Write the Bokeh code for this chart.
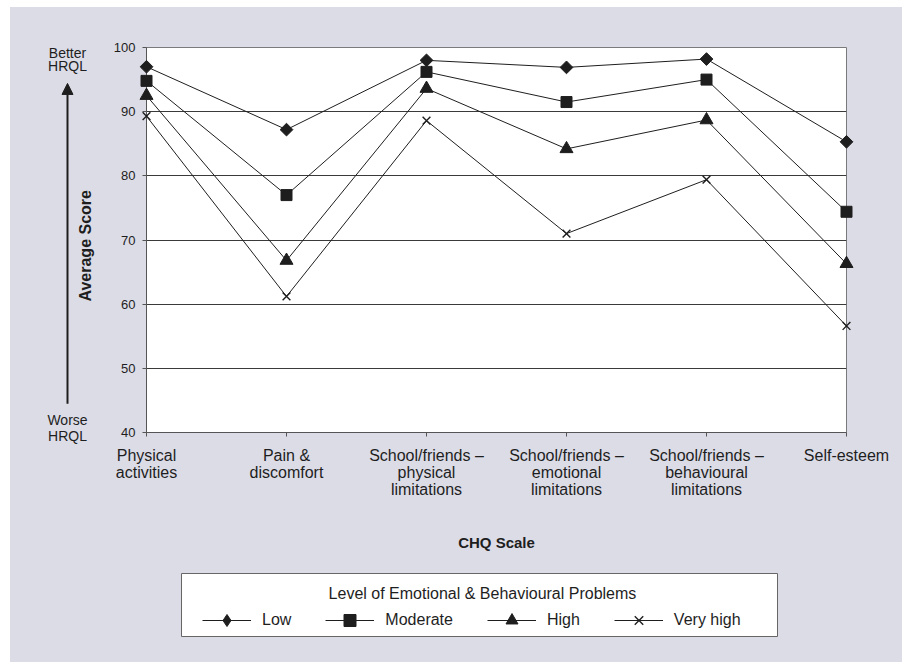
import math
from bokeh.plotting import figure
from bokeh.layouts import column, row
from bokeh.models import (FixedTicker, Label, Arrow, NormalHead, Legend, LegendItem, Range1d)
from bokeh.embed import file_html
from bokeh.resources import INLINE

# ---------------- data ----------------
categories = ["Physical\nactivities", "Pain &\ndiscomfort",
              "School/friends –\nphysical\nlimitations",
              "School/friends –\nemotional\nlimitations",
              "School/friends –\nbehavioural\nlimitations",
              "Self-esteem"]
low = [97.0, 87.2, 98.0, 96.9, 98.2, 85.3]
moderate = [94.8, 77.0, 96.2, 91.5, 95.0, 74.4]
high = [92.5, 66.8, 93.6, 84.2, 88.7, 66.3]
very_high = [89.3, 61.2, 88.6, 71.0, 79.4, 56.6]
series_names = ["Low", "Moderate", "High", "Very high"]
y_ticks = [40, 50, 60, 70, 80, 90, 100]
legend_title = "Level of Emotional & Behavioural Problems"

x = list(range(len(categories)))
series = [low, moderate, high, very_high]

INK = "#1e1e1e"
BG = "#dcdce7"
SANS = "Liberation Sans"

# ---------------- layout geometry (pixels) ----------------
W = 892
TOP_H = 558          # chart row height
LEG_H = 97           # legend strip height
LEFT_W = 98          # strip with y title and HRQL arrow
FR_TOP, FR_BOT = 40, 133
Y0, Y1 = 40, 100

# ---------------- main chart ----------------
p = figure(width=W - LEFT_W, height=TOP_H, output_backend="svg", toolbar_location=None,
           x_range=Range1d(0, len(categories) - 1), y_range=Range1d(Y0, Y1),
           min_border_left=38, min_border_right=56, min_border_top=FR_TOP,
           min_border_bottom=FR_BOT)
p.background_fill_color = "white"
p.border_fill_color = None
p.outline_line_color = "#7a7a7a"
p.outline_line_width = 1

p.xaxis.ticker = FixedTicker(ticks=x)
p.xaxis.major_label_overrides = {i: c for i, c in enumerate(categories)}
p.xaxis.major_label_text_font = SANS
p.xaxis.major_label_text_font_size = "16px"
p.xaxis.major_label_text_line_height = 1.0
p.xaxis.major_label_text_color = INK
p.xaxis.major_label_standoff = 10
p.xaxis.axis_label = "CHQ Scale"
p.xaxis.axis_label_text_font = SANS
p.xaxis.axis_label_text_font_style = "bold"
p.xaxis.axis_label_text_font_size = "15px"
p.xaxis.axis_label_text_color = INK
p.xaxis.axis_label_standoff = 33

p.yaxis.ticker = FixedTicker(ticks=y_ticks)
p.yaxis.major_label_text_font = SANS
p.yaxis.major_label_text_font_size = "13px"
p.yaxis.major_label_text_color = INK
p.yaxis.major_label_standoff = 7

for ax in (p.xaxis, p.yaxis):
    ax.axis_line_color = "#555555"
    ax.major_tick_line_color = "#555555"
    ax.major_tick_out = 4
    ax.major_tick_in = 0
    ax.minor_tick_line_color = None

p.xgrid.visible = False
p.ygrid.ticker = FixedTicker(ticks=y_ticks)
p.ygrid.grid_line_color = "#3a3a3a"
p.ygrid.grid_line_width = 1

markers = [("square", 9, math.pi / 4), ("square", 11, 0), ("triangle", 13, 0), ("x", 11, 0)]
for vals, (mk, sz, ang) in zip(series, markers):
    p.line(x, vals, line_color=INK, line_width=1)
    p.scatter(x, vals, marker=mk, size=sz, angle=ang, fill_color=INK, line_color=INK,
              line_width=1.4 if mk == "x" else 1, level="annotation")

# ---------------- left strip: axis title + HRQL arrow ----------------
ppu = (TOP_H - FR_TOP - FR_BOT) / (Y1 - Y0)          # pixels per score unit
left = figure(width=LEFT_W, height=TOP_H, output_backend="svg", toolbar_location=None,
              x_range=Range1d(0, LEFT_W),
              y_range=Range1d(Y0 - FR_BOT / ppu, Y1 + FR_TOP / ppu),
              x_axis_location=None, y_axis_location=None, frame_align=False,
              min_border_left=0, min_border_right=0, min_border_top=0, min_border_bottom=0)
left.background_fill_color = None
left.border_fill_color = None
left.outline_line_color = None
left.grid.visible = False

AX = 57
for txt, yy in [("Better", 99.22), ("HRQL", 97.15), ("Worse", 41.9), ("HRQL", 39.4)]:
    left.add_layout(Label(x=AX, y=yy, text=txt, text_align="center", text_baseline="middle",
                          text_font=SANS, text_font_size="14px", text_color=INK))
left.add_layout(Arrow(end=NormalHead(size=11, fill_color=INK, line_color=INK),
                      x_start=AX, y_start=44.5, x_end=AX, y_end=94.4,
                      line_color=INK, line_width=2))
left.add_layout(Label(x=75, y=69.1, text="Average Score", angle=math.pi / 2,
                      text_align="center", text_baseline="middle", text_font=SANS,
                      text_font_style="bold", text_font_size="16px", text_color=INK))

# ---------------- legend strip ----------------
g = figure(width=W, height=LEG_H, output_backend="svg", toolbar_location=None,
           x_range=Range1d(0, 1), y_range=Range1d(0, 1),
           x_axis_location=None, y_axis_location=None, frame_align=False,
           min_border_left=171, min_border_right=125, min_border_top=8, min_border_bottom=26)
g.background_fill_color = "white"
g.border_fill_color = None
g.outline_line_color = "#666666"
g.outline_line_width = 1
g.grid.visible = False

legend_markers = ["diamond", "square", "triangle", "x"]
items = []
for name, vals, mk in zip(series_names, series, legend_markers):
    # the series drawn again here only to supply legend swatches (outside this view)
    ln = g.line(x, vals, line_color=INK, line_width=1)
    sc = g.scatter(x, vals, marker=mk, fill_color=INK, line_color=INK,
                   line_width=1.4 if mk == "x" else 1)
    items.append(LegendItem(label=name, renderers=[ln, sc]))

legend = Legend(items=items, orientation="horizontal", location=(21, 1),
                padding=0, margin=0, spacing=34, glyph_width=49, glyph_height=30,
                label_height=30, label_standoff=11,
                label_text_font=SANS, label_text_font_size="16px",
                label_text_color=INK, border_line_alpha=0, background_fill_alpha=0)
g.add_layout(legend)
g.add_layout(Label(x=0.505, y=0.68, text=legend_title, text_align="center",
                   text_baseline="middle", text_font=SANS, text_font_size="16px",
                   text_color=INK))

layout = column(row(left, p), g, margin=(7, 0, 0, 10),
                styles={"background-color": BG})
open("out.html", "w").write(file_html(layout, INLINE))
